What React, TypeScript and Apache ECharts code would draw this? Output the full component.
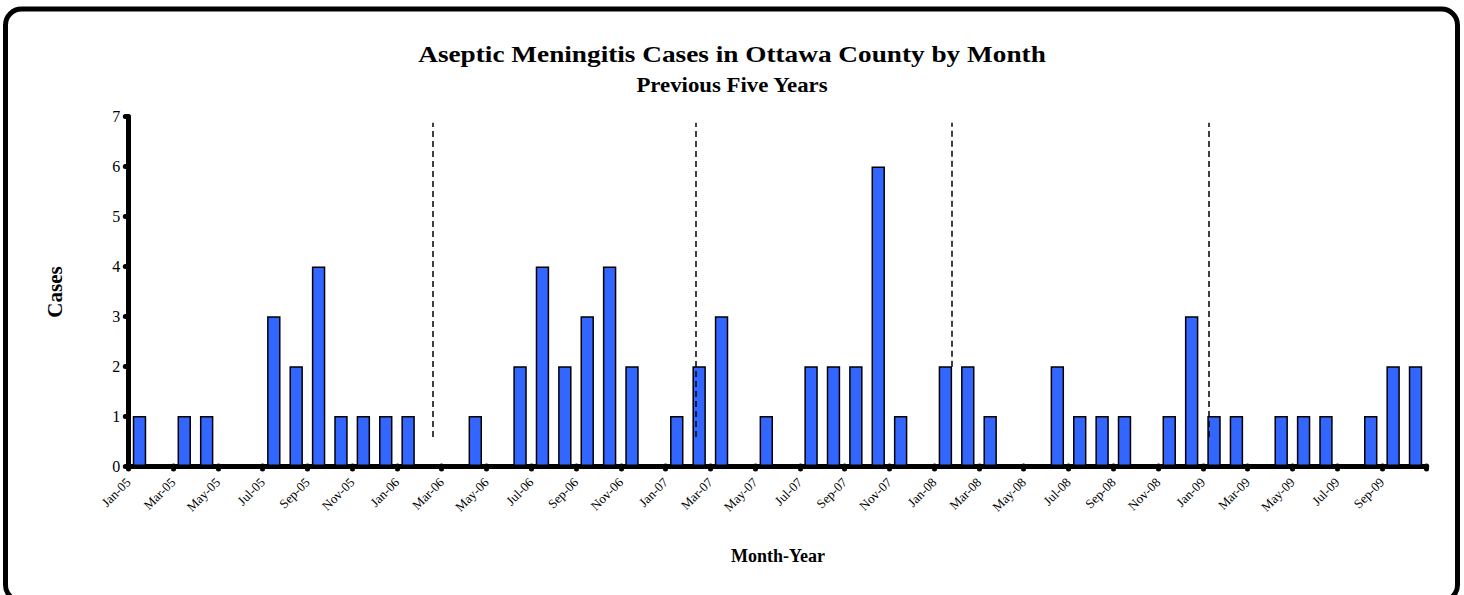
import React, { useEffect, useRef } from "react";
import * as echarts from "echarts";

const months = [
  "Jan-05", "Feb-05", "Mar-05", "Apr-05", "May-05", "Jun-05", "Jul-05", "Aug-05", "Sep-05", "Oct-05", "Nov-05", "Dec-05",
  "Jan-06", "Feb-06", "Mar-06", "Apr-06", "May-06", "Jun-06", "Jul-06", "Aug-06", "Sep-06", "Oct-06", "Nov-06", "Dec-06",
  "Jan-07", "Feb-07", "Mar-07", "Apr-07", "May-07", "Jun-07", "Jul-07", "Aug-07", "Sep-07", "Oct-07", "Nov-07", "Dec-07",
  "Jan-08", "Feb-08", "Mar-08", "Apr-08", "May-08", "Jun-08", "Jul-08", "Aug-08", "Sep-08", "Oct-08", "Nov-08", "Dec-08",
  "Jan-09", "Feb-09", "Mar-09", "Apr-09", "May-09", "Jun-09", "Jul-09", "Aug-09", "Sep-09", "Oct-09",
];

const cases = [
  1, 0, 1, 1, 0, 0, 3, 2, 4, 1, 1, 1,
  1, 0, 0, 1, 0, 2, 4, 2, 3, 4, 2, 0,
  1, 2, 3, 0, 1, 0, 2, 2, 2, 6, 1, 0,
  2, 2, 1, 0, 0, 2, 1, 1, 1, 0, 1, 3,
  1, 1, 0, 1, 1, 1, 0, 1, 2, 2,
];

// labels placed on category boundaries (one more boundary than months)
const boundaryLabels = [...months, ""];

// dashed separators (in month-index units and case units)
const separatorX = [13.62, 25.34, 36.78, 48.27];
const separatorTop = [6.88, 6.88, 6.88, 6.88];
const separatorBottom = [0.58, 0.58, 1.99, 0.58];

const yTicks = [0, 7, 1];

const FONT = "'Liberation Serif', 'Times New Roman', serif";

export default function App() {
  const ref = useRef<HTMLDivElement>(null);

  useEffect(() => {
    if (!ref.current) return;
    const chart = echarts.init(ref.current, undefined, { renderer: "svg" });
    const axisDot = { color: "#000", width: 5, cap: "round" };
    const option: any = {
      animation: false,
      backgroundColor: "#fff",
      grid: { left: 128.3, right: 37.3, top: 116.7, bottom: 129, containLabel: false },
      xAxis: [
        {
          type: "category",
          data: months,
          position: "bottom",
          boundaryGap: true,
          axisLine: { show: true, lineStyle: { color: "#000", width: 5, cap: "round" } },
          axisTick: { show: false },
          axisLabel: { show: false },
          splitLine: { show: false },
        },
        {
          type: "category",
          data: boundaryLabels,
          position: "bottom",
          boundaryGap: false,
          axisLine: { show: false },
          axisTick: { show: true, interval: 1, length: 3, lineStyle: axisDot },
          axisLabel: {
            show: true,
            interval: 1,
            rotate: 45,
            margin: 14,
            fontFamily: FONT,
            fontSize: 13,
            color: "#000",
          },
          splitLine: { show: false },
        },
        { type: "value", min: 0, max: months.length, show: false, position: "bottom" },
      ],
      yAxis: {
        type: "value",
        min: yTicks[0],
        max: yTicks[1],
        interval: yTicks[2],
        axisLine: { show: true, lineStyle: { color: "#000", width: 5, cap: "round" } },
        axisTick: { show: true, length: 3, lineStyle: axisDot },
        axisLabel: { margin: 8, fontFamily: FONT, fontSize: 16, color: "#000" },
        splitLine: { show: false },
      },
      series: [
        {
          type: "bar",
          xAxisIndex: 0,
          yAxisIndex: 0,
          data: cases,
          barCategoryGap: "40%",
          itemStyle: { color: "#3366FF", borderColor: "#000", borderWidth: 1.5 },
        },
        {
          type: "line",
          xAxisIndex: 2,
          yAxisIndex: 0,
          data: [],
          symbol: "none",
          markLine: {
            silent: true,
            symbol: ["none", "none"],
            label: { show: false },
            lineStyle: { color: "#000", width: 1.5, type: [6, 4] },
            data: separatorX.map((x, i) => [
              { coord: [x, separatorBottom[i]] },
              { coord: [x, separatorTop[i]] },
            ]),
          },
        },
      ],
      graphic: [
        {
          type: "rect",
          silent: true,
          z: 100,
          shape: { x: 5.5, y: 9, width: 1452, height: 592, r: 16 },
          style: { fill: "none", stroke: "#000", lineWidth: 5 },
        },
        {
          type: "text",
          x: 732,
          y: 54,
          scaleX: 1.136,
          style: {
            text: "Aseptic Meningitis Cases in Ottawa County by Month",
            font: `bold 24px ${FONT}`,
            fill: "#000",
            textAlign: "center",
            textVerticalAlign: "middle",
          },
        },
        {
          type: "text",
          x: 732,
          y: 85,
          scaleX: 1.14,
          style: {
            text: "Previous Five Years",
            font: `bold 20px ${FONT}`,
            fill: "#000",
            textAlign: "center",
            textVerticalAlign: "middle",
          },
        },
        {
          type: "text",
          x: 55,
          y: 292,
          rotation: Math.PI / 2,
          style: {
            text: "Cases",
            font: `bold 21px ${FONT}`,
            fill: "#000",
            textAlign: "center",
            textVerticalAlign: "middle",
          },
        },
        {
          type: "text",
          x: 778,
          y: 556,
          style: {
            text: "Month-Year",
            font: `bold 18px ${FONT}`,
            fill: "#000",
            textAlign: "center",
            textVerticalAlign: "middle",
          },
        },
      ],
    };
    chart.setOption(option);
    return () => chart.dispose();
  }, []);

  return (
    <div
      ref={ref}
      style={{ position: "absolute", left: 0, top: 0, width: 1464, height: 595 }}
    />
  );
}
